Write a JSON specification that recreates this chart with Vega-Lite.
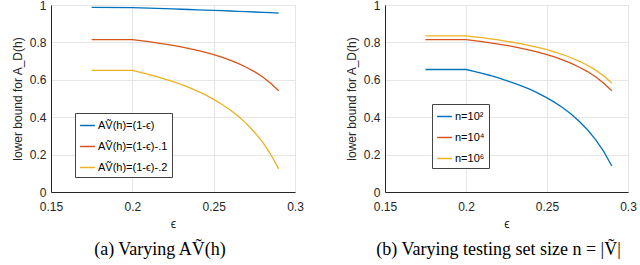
{
  "$schema": "https://vega.github.io/schema/vega-lite/v6.json",
  "padding": {"left": 10, "top": -2, "right": 0, "bottom": 0},
  "background": "white",
  "datasets": {
    "a": [
      {"s": "AṼ(h)=(1-ϵ)", "eps": 0.175, "v": 0.987},
      {"s": "AṼ(h)=(1-ϵ)", "eps": 0.2, "v": 0.986},
      {"s": "AṼ(h)=(1-ϵ)", "eps": 0.205, "v": 0.9846},
      {"s": "AṼ(h)=(1-ϵ)", "eps": 0.21, "v": 0.9832},
      {"s": "AṼ(h)=(1-ϵ)", "eps": 0.215, "v": 0.9818},
      {"s": "AṼ(h)=(1-ϵ)", "eps": 0.22, "v": 0.9804},
      {"s": "AṼ(h)=(1-ϵ)", "eps": 0.225, "v": 0.9789},
      {"s": "AṼ(h)=(1-ϵ)", "eps": 0.23, "v": 0.9774},
      {"s": "AṼ(h)=(1-ϵ)", "eps": 0.235, "v": 0.9759},
      {"s": "AṼ(h)=(1-ϵ)", "eps": 0.24, "v": 0.9744},
      {"s": "AṼ(h)=(1-ϵ)", "eps": 0.245, "v": 0.9728},
      {"s": "AṼ(h)=(1-ϵ)", "eps": 0.25, "v": 0.9712},
      {"s": "AṼ(h)=(1-ϵ)", "eps": 0.255, "v": 0.9696},
      {"s": "AṼ(h)=(1-ϵ)", "eps": 0.26, "v": 0.9679},
      {"s": "AṼ(h)=(1-ϵ)", "eps": 0.265, "v": 0.9662},
      {"s": "AṼ(h)=(1-ϵ)", "eps": 0.27, "v": 0.9644},
      {"s": "AṼ(h)=(1-ϵ)", "eps": 0.275, "v": 0.9626},
      {"s": "AṼ(h)=(1-ϵ)", "eps": 0.28, "v": 0.9608},
      {"s": "AṼ(h)=(1-ϵ)", "eps": 0.285, "v": 0.9589},
      {"s": "AṼ(h)=(1-ϵ)", "eps": 0.29, "v": 0.957},
      {"s": "AṼ(h)=(1-ϵ)-.1", "eps": 0.175, "v": 0.815},
      {"s": "AṼ(h)=(1-ϵ)-.1", "eps": 0.2, "v": 0.815},
      {"s": "AṼ(h)=(1-ϵ)-.1", "eps": 0.205, "v": 0.810},
      {"s": "AṼ(h)=(1-ϵ)-.1", "eps": 0.21, "v": 0.804},
      {"s": "AṼ(h)=(1-ϵ)-.1", "eps": 0.215, "v": 0.798},
      {"s": "AṼ(h)=(1-ϵ)-.1", "eps": 0.22, "v": 0.791},
      {"s": "AṼ(h)=(1-ϵ)-.1", "eps": 0.225, "v": 0.784},
      {"s": "AṼ(h)=(1-ϵ)-.1", "eps": 0.23, "v": 0.776},
      {"s": "AṼ(h)=(1-ϵ)-.1", "eps": 0.235, "v": 0.767},
      {"s": "AṼ(h)=(1-ϵ)-.1", "eps": 0.24, "v": 0.757},
      {"s": "AṼ(h)=(1-ϵ)-.1", "eps": 0.245, "v": 0.747},
      {"s": "AṼ(h)=(1-ϵ)-.1", "eps": 0.25, "v": 0.734},
      {"s": "AṼ(h)=(1-ϵ)-.1", "eps": 0.255, "v": 0.721},
      {"s": "AṼ(h)=(1-ϵ)-.1", "eps": 0.26, "v": 0.705},
      {"s": "AṼ(h)=(1-ϵ)-.1", "eps": 0.265, "v": 0.688},
      {"s": "AṼ(h)=(1-ϵ)-.1", "eps": 0.27, "v": 0.667},
      {"s": "AṼ(h)=(1-ϵ)-.1", "eps": 0.275, "v": 0.644},
      {"s": "AṼ(h)=(1-ϵ)-.1", "eps": 0.28, "v": 0.616},
      {"s": "AṼ(h)=(1-ϵ)-.1", "eps": 0.285, "v": 0.582},
      {"s": "AṼ(h)=(1-ϵ)-.1", "eps": 0.29, "v": 0.541},
      {"s": "AṼ(h)=(1-ϵ)-.2", "eps": 0.175, "v": 0.65},
      {"s": "AṼ(h)=(1-ϵ)-.2", "eps": 0.2, "v": 0.65},
      {"s": "AṼ(h)=(1-ϵ)-.2", "eps": 0.205, "v": 0.640},
      {"s": "AṼ(h)=(1-ϵ)-.2", "eps": 0.21, "v": 0.629},
      {"s": "AṼ(h)=(1-ϵ)-.2", "eps": 0.215, "v": 0.617},
      {"s": "AṼ(h)=(1-ϵ)-.2", "eps": 0.22, "v": 0.604},
      {"s": "AṼ(h)=(1-ϵ)-.2", "eps": 0.225, "v": 0.590},
      {"s": "AṼ(h)=(1-ϵ)-.2", "eps": 0.23, "v": 0.575},
      {"s": "AṼ(h)=(1-ϵ)-.2", "eps": 0.235, "v": 0.558},
      {"s": "AṼ(h)=(1-ϵ)-.2", "eps": 0.24, "v": 0.539},
      {"s": "AṼ(h)=(1-ϵ)-.2", "eps": 0.245, "v": 0.519},
      {"s": "AṼ(h)=(1-ϵ)-.2", "eps": 0.25, "v": 0.495},
      {"s": "AṼ(h)=(1-ϵ)-.2", "eps": 0.255, "v": 0.469},
      {"s": "AṼ(h)=(1-ϵ)-.2", "eps": 0.26, "v": 0.440},
      {"s": "AṼ(h)=(1-ϵ)-.2", "eps": 0.265, "v": 0.406},
      {"s": "AṼ(h)=(1-ϵ)-.2", "eps": 0.27, "v": 0.367},
      {"s": "AṼ(h)=(1-ϵ)-.2", "eps": 0.275, "v": 0.321},
      {"s": "AṼ(h)=(1-ϵ)-.2", "eps": 0.28, "v": 0.268},
      {"s": "AṼ(h)=(1-ϵ)-.2", "eps": 0.285, "v": 0.203},
      {"s": "AṼ(h)=(1-ϵ)-.2", "eps": 0.29, "v": 0.124}
    ],
    "b": [
      {"s": "n=10²", "eps": 0.175, "v": 0.655},
      {"s": "n=10²", "eps": 0.2, "v": 0.655},
      {"s": "n=10²", "eps": 0.205, "v": 0.645},
      {"s": "n=10²", "eps": 0.21, "v": 0.634},
      {"s": "n=10²", "eps": 0.215, "v": 0.623},
      {"s": "n=10²", "eps": 0.22, "v": 0.610},
      {"s": "n=10²", "eps": 0.225, "v": 0.596},
      {"s": "n=10²", "eps": 0.23, "v": 0.581},
      {"s": "n=10²", "eps": 0.235, "v": 0.565},
      {"s": "n=10²", "eps": 0.24, "v": 0.547},
      {"s": "n=10²", "eps": 0.245, "v": 0.526},
      {"s": "n=10²", "eps": 0.25, "v": 0.503},
      {"s": "n=10²", "eps": 0.255, "v": 0.478},
      {"s": "n=10²", "eps": 0.26, "v": 0.449},
      {"s": "n=10²", "eps": 0.265, "v": 0.416},
      {"s": "n=10²", "eps": 0.27, "v": 0.377},
      {"s": "n=10²", "eps": 0.275, "v": 0.333},
      {"s": "n=10²", "eps": 0.28, "v": 0.280},
      {"s": "n=10²", "eps": 0.285, "v": 0.217},
      {"s": "n=10²", "eps": 0.29, "v": 0.139},
      {"s": "n=10⁴", "eps": 0.175, "v": 0.815},
      {"s": "n=10⁴", "eps": 0.2, "v": 0.815},
      {"s": "n=10⁴", "eps": 0.205, "v": 0.810},
      {"s": "n=10⁴", "eps": 0.21, "v": 0.804},
      {"s": "n=10⁴", "eps": 0.215, "v": 0.798},
      {"s": "n=10⁴", "eps": 0.22, "v": 0.791},
      {"s": "n=10⁴", "eps": 0.225, "v": 0.784},
      {"s": "n=10⁴", "eps": 0.23, "v": 0.776},
      {"s": "n=10⁴", "eps": 0.235, "v": 0.767},
      {"s": "n=10⁴", "eps": 0.24, "v": 0.757},
      {"s": "n=10⁴", "eps": 0.245, "v": 0.747},
      {"s": "n=10⁴", "eps": 0.25, "v": 0.734},
      {"s": "n=10⁴", "eps": 0.255, "v": 0.721},
      {"s": "n=10⁴", "eps": 0.26, "v": 0.705},
      {"s": "n=10⁴", "eps": 0.265, "v": 0.688},
      {"s": "n=10⁴", "eps": 0.27, "v": 0.667},
      {"s": "n=10⁴", "eps": 0.275, "v": 0.644},
      {"s": "n=10⁴", "eps": 0.28, "v": 0.616},
      {"s": "n=10⁴", "eps": 0.285, "v": 0.582},
      {"s": "n=10⁴", "eps": 0.29, "v": 0.541},
      {"s": "n=10⁶", "eps": 0.175, "v": 0.835},
      {"s": "n=10⁶", "eps": 0.2, "v": 0.835},
      {"s": "n=10⁶", "eps": 0.205, "v": 0.830},
      {"s": "n=10⁶", "eps": 0.21, "v": 0.825},
      {"s": "n=10⁶", "eps": 0.215, "v": 0.819},
      {"s": "n=10⁶", "eps": 0.22, "v": 0.813},
      {"s": "n=10⁶", "eps": 0.225, "v": 0.806},
      {"s": "n=10⁶", "eps": 0.23, "v": 0.799},
      {"s": "n=10⁶", "eps": 0.235, "v": 0.791},
      {"s": "n=10⁶", "eps": 0.24, "v": 0.782},
      {"s": "n=10⁶", "eps": 0.245, "v": 0.772},
      {"s": "n=10⁶", "eps": 0.25, "v": 0.761},
      {"s": "n=10⁶", "eps": 0.255, "v": 0.748},
      {"s": "n=10⁶", "eps": 0.26, "v": 0.734},
      {"s": "n=10⁶", "eps": 0.265, "v": 0.718},
      {"s": "n=10⁶", "eps": 0.27, "v": 0.699},
      {"s": "n=10⁶", "eps": 0.275, "v": 0.678},
      {"s": "n=10⁶", "eps": 0.28, "v": 0.652},
      {"s": "n=10⁶", "eps": 0.285, "v": 0.621},
      {"s": "n=10⁶", "eps": 0.29, "v": 0.583}
    ]
  },
  "hconcat": [
    {
      "data": {"name": "a"},
      "width": 244,
      "height": 187,
      "title": {"text": "(a) Varying AṼ(h)", "orient": "bottom", "anchor": "middle", "dx": -13, "offset": 12},
      "mark": {"type": "line", "strokeWidth": 1.3},
      "encoding": {
        "x": {"field": "eps", "type": "quantitative", "scale": {"domain": [0.15, 0.3], "nice": false}, "axis": {"title": "ϵ", "values": [0.15, 0.2, 0.25, 0.3], "format": "~g"}},
        "y": {"field": "v", "type": "quantitative", "scale": {"domain": [0, 1], "nice": false}, "axis": {"title": "lower bound for A_D(h)", "values": [0, 0.2, 0.4, 0.6, 0.8, 1], "format": "~g"}},
        "color": {"field": "s", "type": "nominal", "scale": {"domain": ["AṼ(h)=(1-ϵ)", "AṼ(h)=(1-ϵ)-.1", "AṼ(h)=(1-ϵ)-.2"], "range": ["#0072BD", "#D95319", "#EDB120"]},
          "legend": {"title": null, "orient": "none", "legendX": 24, "legendY": 108}}
      }
    },
    {
      "data": {"name": "b"},
      "width": 243,
      "height": 187,
      "title": {"text": "(b) Varying testing set size n = |Ṽ|", "orient": "bottom", "anchor": "middle", "dx": -8, "offset": 12},
      "mark": {"type": "line", "strokeWidth": 1.3},
      "encoding": {
        "x": {"field": "eps", "type": "quantitative", "scale": {"domain": [0.15, 0.3], "nice": false}, "axis": {"title": "ϵ", "values": [0.15, 0.2, 0.25, 0.3], "format": "~g"}},
        "y": {"field": "v", "type": "quantitative", "scale": {"domain": [0, 1], "nice": false}, "axis": {"title": "lower bound for A_D(h)", "values": [0, 0.2, 0.4, 0.6, 0.8, 1], "format": "~g"}},
        "color": {"field": "s", "type": "nominal", "scale": {"domain": ["n=10²", "n=10⁴", "n=10⁶"], "range": ["#0072BD", "#D95319", "#EDB120"]},
          "legend": {"title": null, "orient": "none", "legendX": 47, "legendY": 99}}
      }
    }
  ],
  "resolve": {"scale": {"color": "independent"}},
  "spacing": 40,
  "config": {
    "font": "Liberation Sans",
    "view": {"stroke": "#d9d9d9"},
    "title": {"font": "Liberation Serif", "fontSize": 18, "fontWeight": "normal", "color": "#000"},
    "axis": {
      "domainColor": "#262626",
      "gridColor": "#e6e6e6",
      "ticks": false,
      "labelFont": "Liberation Sans",
      "labelFontSize": 12,
      "labelColor": "#262626",
      "labelPadding": 5,
      "titleFont": "Liberation Sans",
      "titleFontSize": 12,
      "titleFontWeight": "normal",
      "titleColor": "#262626",
      "titlePadding": 5
    },
    "axisX": {"labelFlush": false, "labelPadding": 9, "titlePadding": 6},
    "axisY": {"labelFlush": false},
    "legend": {
      "symbolType": "stroke",
      "symbolSize": 220,
      "symbolStrokeWidth": 1.5,
      "labelFont": "Liberation Sans",
      "labelFontSize": 11,
      "labelColor": "#000",
      "fillColor": "white",
      "strokeColor": "#444",
      "padding": 4,
      "rowPadding": 7,
      "labelOffset": 2
    }
  }
}
